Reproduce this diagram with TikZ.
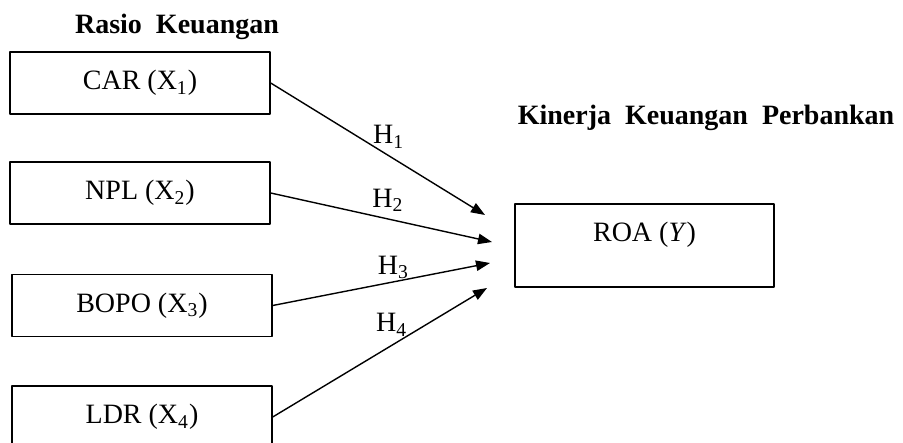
\documentclass[tikz,border=0pt]{standalone}
\usepackage{fontspec}
\setmainfont{Liberation Serif}
\usetikzlibrary{arrows.meta}

\begin{document}
\begin{tikzpicture}[x=0.5pt,y=-0.5pt,
  line cap=round,
  line join=round,
  every node/.style={font=\fontsize{14}{17}\selectfont},
  kotak/.style={draw,line width=0.7pt,minimum width=130pt,
    minimum height=31pt,inner sep=0pt},
  judul/.style={font=\fontsize{14}{17}\selectfont\bfseries,anchor=base},
  panah/.style={line width=0.7pt,-{Triangle[length=7pt,width=5.2pt]}}]

  % ukuran gambar (piksel)
  \useasboundingbox (0,0) rectangle (903,443);
  \clip (0,0) rectangle (903,443);

  % judul
  \node[judul] (rasio)   at (177,34)  {Rasio~~Keuangan};
  \node[judul] (kinerja) at (706,125) {Kinerja~~Keuangan~~Perbankan};

  % variabel X
  \node[kotak] (car)  at (140,83)    {CAR (X\textsubscript{1})};
  \node[kotak] (npl)  at (140,193)   {NPL (X\textsubscript{2})};
  \node[kotak] (bopo) at (142,305.5) {BOPO (X\textsubscript{3})};
  \node[kotak] (ldr)  at (142,417)   {LDR (X\textsubscript{4})};

  % variabel Y
  \node[kotak,minimum width=129.5pt,minimum height=41.5pt,
        text height=9.5pt,text depth=13pt] (roa) at (644.5,245.5)
        {ROA (\textit{Y})};

  % ujung panah
  \coordinate (t1) at (485,215);
  \coordinate (t2) at (492,242);
  \coordinate (t3) at (490,263);
  \coordinate (t4) at (487,288);

  % hipotesis
  \draw[panah] (car.east)  -- (t1)
    node[pos=0.55,above] {H\textsubscript{1}};
  \draw[panah] (npl.east)  -- (t2)
    node[pos=0.53,above] {H\textsubscript{2}};
  \draw[panah] (bopo.east) -- (t3)
    node[pos=0.555,above,yshift=-2pt] {H\textsubscript{3}};
  \draw[panah] (ldr.east)  -- (t4)
    node[pos=0.555,above,yshift=1pt] {H\textsubscript{4}};

\end{tikzpicture}
\end{document}
